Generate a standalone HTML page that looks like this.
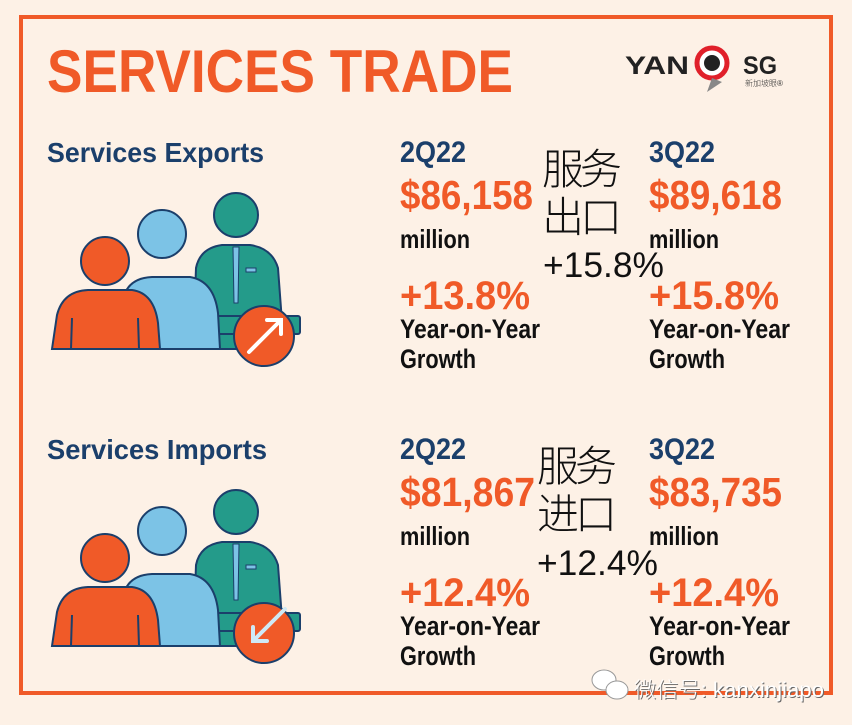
<!DOCTYPE html>
<html><head><meta charset="utf-8"><style>
html,body{margin:0;padding:0;background:#fdf1e6;}
svg{display:block}
.b{font-family:"Liberation Sans",sans-serif;font-weight:bold}
.c{font-family:"Liberation Sans","Noto Sans CJK SC",sans-serif;font-weight:300}
</style></head><body>
<svg width="852" height="725" viewBox="0 0 852 725" xmlns="http://www.w3.org/2000/svg">
<rect width="852" height="725" fill="#fdf1e6"/>
<rect x="21" y="17" width="810" height="676" fill="none" stroke="#f05a28" stroke-width="4"/>
<text class="b" x="47" y="92" font-size="60" fill="#f05a28" textLength="466" lengthAdjust="spacingAndGlyphs">SERVICES TRADE</text>
<!-- logo -->
<text class="b" x="625" y="74" font-size="25" fill="#222" textLength="64" lengthAdjust="spacingAndGlyphs">YAN</text>
<circle cx="712" cy="63" r="15" fill="#fff" stroke="#e0202a" stroke-width="5"/>
<circle cx="712" cy="63" r="8" fill="#222"/>
<path d="M712 78 L707 92 L722 82Z" fill="#888"/>
<text class="b" x="743" y="74" font-size="25" fill="#222" textLength="34" lengthAdjust="spacingAndGlyphs">SG</text>
<text class="c" x="745" y="86" font-size="8" fill="#333">新加坡眼®</text>

<defs>
<g id="people">
 <path d="M193 646 L196 565 Q200 545 222 542 L250 542 Q272 545 278 565 L284 646Z" fill="#249b8a" stroke="#1b3f6b" stroke-width="2"/>
 <path d="M233 544 L239 544 L238 600 L234 600Z" fill="#7cc3e6" stroke="#1b3f6b" stroke-width="1"/>
 <rect x="246" y="565" width="10" height="4" fill="#7cc3e6" stroke="#1b3f6b" stroke-width="1"/>
 <circle cx="236" cy="512" r="22" fill="#249b8a" stroke="#1b3f6b" stroke-width="2"/>
 <rect x="200" y="613" width="100" height="18" rx="2" fill="#249b8a" stroke="#1b3f6b" stroke-width="2"/>
 <path d="M120 646 L122 600 Q126 575 152 574 L190 574 Q214 578 218 610 L220 646Z" fill="#7cc3e6" stroke="#1b3f6b" stroke-width="2"/>
 <circle cx="162" cy="531" r="24" fill="#7cc3e6" stroke="#1b3f6b" stroke-width="2"/>
 <path d="M52 646 L57 612 Q63 588 88 587 L132 587 Q154 590 158 620 L160 646Z" fill="#f05a28" stroke="#1b3f6b" stroke-width="2"/>
 <circle cx="105" cy="558" r="24" fill="#f05a28" stroke="#1b3f6b" stroke-width="2"/>
 <line x1="72" y1="615" x2="71" y2="646" stroke="#1b3f6b" stroke-width="2"/>
 <line x1="138" y1="615" x2="139" y2="646" stroke="#1b3f6b" stroke-width="2"/>
 <circle cx="264" cy="633" r="30" fill="#f05a28" stroke="#1b3f6b" stroke-width="2"/>
</g>
</defs>
<g transform="translate(0,-297)"><use href="#people"/>
 <path d="M249 649 L281 617 M267 617 L281 617 L281 631" fill="none" stroke="#fff" stroke-width="4" stroke-linecap="round"/>
</g>
<use href="#people"/>
<path d="M285 609 L253 641 M253 627 L253 641 L267 641" fill="none" stroke="#cfe9f5" stroke-width="4" stroke-linecap="round"/>

<!-- Exports -->
<text class="b" x="47" y="162" font-size="28" fill="#1b3f6b" textLength="217" lengthAdjust="spacingAndGlyphs">Services Exports</text>
<text class="b" x="400" y="162" font-size="30" fill="#1b3f6b" textLength="66" lengthAdjust="spacingAndGlyphs">2Q22</text>
<text class="b" x="400" y="209" font-size="41" fill="#f05a28" textLength="133" lengthAdjust="spacingAndGlyphs">$86,158</text>
<text class="b" x="400" y="248" font-size="26" fill="#111" textLength="70" lengthAdjust="spacingAndGlyphs">million</text>
<text class="b" x="400" y="309" font-size="40" fill="#f05a28" textLength="130" lengthAdjust="spacingAndGlyphs">+13.8%</text>
<text class="b" x="400" y="338" font-size="27" fill="#111" textLength="140" lengthAdjust="spacingAndGlyphs">Year-on-Year</text>
<text class="b" x="400" y="368" font-size="27" fill="#111" textLength="76" lengthAdjust="spacingAndGlyphs">Growth</text>
<text class="b" x="649" y="162" font-size="30" fill="#1b3f6b" textLength="66" lengthAdjust="spacingAndGlyphs">3Q22</text>
<text class="b" x="649" y="209" font-size="41" fill="#f05a28" textLength="133" lengthAdjust="spacingAndGlyphs">$89,618</text>
<text class="b" x="649" y="248" font-size="26" fill="#111" textLength="70" lengthAdjust="spacingAndGlyphs">million</text>
<text class="b" x="649" y="309" font-size="40" fill="#f05a28" textLength="130" lengthAdjust="spacingAndGlyphs">+15.8%</text>
<text class="b" x="649" y="338" font-size="27" fill="#111" textLength="141" lengthAdjust="spacingAndGlyphs">Year-on-Year</text>
<text class="b" x="649" y="368" font-size="27" fill="#111" textLength="76" lengthAdjust="spacingAndGlyphs">Growth</text>
<text class="c" x="542" y="184" font-size="42" fill="#111" textLength="80">服务</text>
<text class="c" x="542" y="232" font-size="42" fill="#111" textLength="80">出口</text>
<text class="c" x="543" y="277" font-size="35" fill="#111" textLength="121" lengthAdjust="spacingAndGlyphs">+15.8%</text>

<!-- Imports -->
<text class="b" x="47" y="459" font-size="28" fill="#1b3f6b" textLength="220" lengthAdjust="spacingAndGlyphs">Services Imports</text>
<text class="b" x="400" y="459" font-size="30" fill="#1b3f6b" textLength="66" lengthAdjust="spacingAndGlyphs">2Q22</text>
<text class="b" x="400" y="506" font-size="41" fill="#f05a28" textLength="135" lengthAdjust="spacingAndGlyphs">$81,867</text>
<text class="b" x="400" y="545" font-size="26" fill="#111" textLength="70" lengthAdjust="spacingAndGlyphs">million</text>
<text class="b" x="400" y="606" font-size="40" fill="#f05a28" textLength="130" lengthAdjust="spacingAndGlyphs">+12.4%</text>
<text class="b" x="400" y="635" font-size="27" fill="#111" textLength="140" lengthAdjust="spacingAndGlyphs">Year-on-Year</text>
<text class="b" x="400" y="665" font-size="27" fill="#111" textLength="76" lengthAdjust="spacingAndGlyphs">Growth</text>
<text class="b" x="649" y="459" font-size="30" fill="#1b3f6b" textLength="66" lengthAdjust="spacingAndGlyphs">3Q22</text>
<text class="b" x="649" y="506" font-size="41" fill="#f05a28" textLength="133" lengthAdjust="spacingAndGlyphs">$83,735</text>
<text class="b" x="649" y="545" font-size="26" fill="#111" textLength="70" lengthAdjust="spacingAndGlyphs">million</text>
<text class="b" x="649" y="606" font-size="40" fill="#f05a28" textLength="130" lengthAdjust="spacingAndGlyphs">+12.4%</text>
<text class="b" x="649" y="635" font-size="27" fill="#111" textLength="141" lengthAdjust="spacingAndGlyphs">Year-on-Year</text>
<text class="b" x="649" y="665" font-size="27" fill="#111" textLength="76" lengthAdjust="spacingAndGlyphs">Growth</text>
<text class="c" x="537" y="481" font-size="42" fill="#111" textLength="80">服务</text>
<text class="c" x="537" y="529" font-size="42" fill="#111" textLength="80">进口</text>
<text class="c" x="537" y="575" font-size="35" fill="#111" textLength="121" lengthAdjust="spacingAndGlyphs">+12.4%</text>

<!-- watermark -->
<g fill="#fff" stroke="#999" stroke-width="1">
 <ellipse cx="604" cy="680" rx="12" ry="10"/>
 <ellipse cx="617" cy="690" rx="11" ry="9"/>
</g>
<text class="c" x="634" y="697" font-size="21" fill="#666" textLength="190" lengthAdjust="spacingAndGlyphs" transform="translate(1,1)">微信号: kanxinjiapo</text>
<text class="c" x="634" y="697" font-size="21" fill="#fff" textLength="190" lengthAdjust="spacingAndGlyphs">微信号: kanxinjiapo</text>
</svg>
</body></html>
